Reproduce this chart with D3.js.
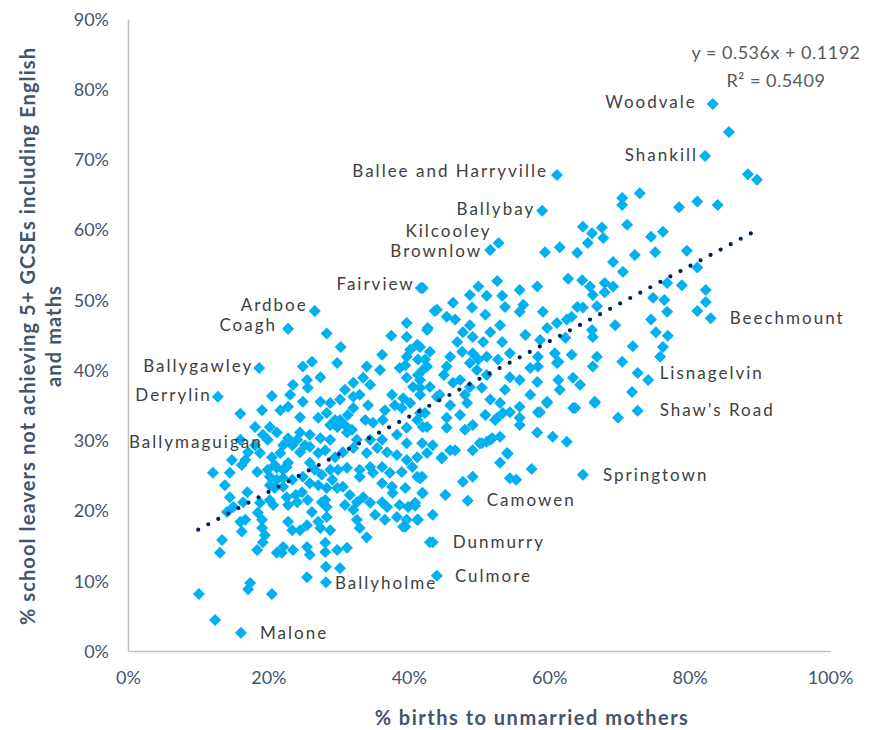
<!DOCTYPE html>
<html>
<head>
<meta charset="utf-8">
<script src="https://cdn.jsdelivr.net/npm/d3@7/dist/d3.min.js"></script>
<style>
  html, body { margin: 0; padding: 0; background: #ffffff; }
  svg { display: block; font-family: Lato, "Liberation Sans", sans-serif; }
</style>
</head>
<body>
<svg id="chart" width="881" height="730"></svg>
<script>
// % births to unmarried mothers, per ward (unlabelled wards)
const birthsUnmarried = [
  28.3, 37.5, 39.7, 39.7, 41.2, 42.6, 30.3, 29.8, 26.2, 24.9,
  36.2, 39.7, 38.7, 41.3, 42.0, 35.9, 34.0, 33.5, 27.4, 25.5,
  23.5, 25.6, 32.1, 32.1, 34.5, 20.5, 37.6, 39.2, 40.6, 39.7,
  41.6, 22.8, 24.9, 27.4, 28.8, 28.3, 27.1, 24.5, 34.2, 32.1,
  16.0, 39.0, 40.2, 36.3, 34.9, 33.8, 30.2, 29.8, 41.2, 39.7,
  42.0, 42.3, 18.1, 20.2, 19.2, 21.2, 22.8, 24.5, 25.9, 27.4,
  28.8, 31.2, 31.9, 32.6, 34.5, 36.2, 38.3, 39.7, 41.9, 17.1,
  18.8, 20.5, 21.7, 22.8, 24.5, 25.9, 27.1, 28.1, 29.5, 30.6,
  32.1, 34.0, 35.5, 36.9, 38.3, 39.7, 41.2, 42.6, 16.2, 12.1,
  21.2, 22.6, 25.9, 31.2, 33.0, 34.5, 36.2, 37.3, 39.0, 40.5,
  41.9, 14.5, 13.8, 18.4, 20.2, 21.2, 22.1, 23.4, 20.9, 22.1,
  24.9, 25.9, 24.8, 29.1, 28.3, 28.1, 29.8, 30.6, 33.0, 34.9,
  36.2, 37.6, 37.7, 39.5, 41.9, 41.2, 14.5, 17.0, 16.4, 15.0,
  18.8, 20.2, 20.7, 22.6, 22.8, 24.1, 27.6, 28.3, 32.6, 33.5,
  34.5, 36.2, 36.9, 38.7, 39.9, 40.9, 14.1, 16.7, 16.0, 18.5,
  19.1, 16.2, 19.1, 19.5, 22.8, 23.4, 24.5, 25.5, 27.1, 28.3,
  27.4, 28.8, 32.6, 32.1, 33.0, 34.0, 38.3, 39.2, 39.7, 41.2,
  13.4, 13.1, 18.4, 19.2, 21.2, 22.1, 23.5, 25.5, 25.9, 28.1,
  28.1, 29.8, 31.2, 43.0, 10.1, 12.4, 17.4, 17.1, 20.5, 25.5,
  28.2, 30.2, 21.9, 41.6, 42.0, 45.2, 47.7, 49.1, 53.0, 54.1,
  54.4, 55.3, 57.5, 43.4, 41.3, 39.5, 40.9, 44.7, 43.4, 49.1,
  50.4, 51.6, 53.0, 58.3, 60.5, 62.5, 52.3, 55.8, 58.4, 59.7,
  63.4, 66.5, 71.8, 69.8, 64.8, 66.1, 67.5, 67.7, 65.5, 71.1,
  59.4, 61.5, 64.0, 72.2, 75.1, 69.1, 70.5, 42.0, 49.9, 52.6,
  51.1, 53.3, 58.3, 62.7, 64.7, 65.8, 66.2, 67.9, 67.9, 69.1,
  74.8, 76.8, 44.0, 46.3, 49.0, 45.4, 46.6, 53.7, 55.8, 56.3,
  59.1, 64.0, 64.8, 66.8, 76.8, 42.7, 47.7, 49.1, 51.6, 46.9,
  50.6, 53.3, 59.7, 61.1, 62.5, 63.2, 69.4, 62.3, 66.1, 66.2,
  71.9, 41.6, 43.0, 45.9, 47.6, 49.1, 49.9, 51.1, 52.7, 54.4,
  58.4, 60.8, 61.1, 63.2, 66.8, 66.2, 70.4, 42.6, 45.4, 48.7,
  49.7, 51.1, 54.4, 57.3, 58.4, 61.3, 58.3, 61.3, 63.4, 64.4,
  41.6, 43.0, 46.3, 48.7, 50.4, 66.5, 59.7, 58.7, 55.8, 63.7,
  44.0, 45.9, 48.3, 53.0, 53.4, 54.4, 55.8, 52.6, 45.4, 41.6,
  42.6, 45.4, 48.0, 49.1, 51.1, 51.9, 50.1, 45.9, 46.6, 44.7,
  54.0, 43.7, 85.6, 88.3, 89.6, 72.9, 70.4, 70.4, 78.5, 81.1,
  84.0, 74.5, 76.2, 79.6, 81.1, 78.9, 82.3, 82.3, 81.1, 76.9,
  76.2, 75.8, 74.1, 23.4, 24.1, 25.2, 22.1, 26.6, 27.6, 28.8,
  27.1, 29.9, 19.9, 20.9, 22.1, 20.2, 29.5, 30.9, 28.8, 31.3,
  39.5, 41.3, 42.3, 40.2, 41.6, 38.0, 36.6, 33.0, 30.9, 30.2,
  23.1, 21.7, 19.1, 18.1, 16.0, 16.7, 14.8, 23.9, 25.6, 26.2,
  30.9, 31.6, 35.2, 36.6, 44.4, 47.3, 45.0, 48.0, 51.6, 50.9,
  47.3, 53.7, 57.3, 55.8, 61.5, 48.7, 50.9, 53.0, 56.6, 58.7,
  48.7, 55.8, 76.4, 75.2, 74.5
];

// % school leavers not achieving 5+ GCSEs incl. English and maths (same order)
const leaversNoGcse = [
  45.2, 44.9, 46.7, 44.7, 43.6, 45.7, 43.3, 41.0, 41.2, 40.5,
  42.2, 41.9, 40.3, 41.5, 40.0, 40.0, 40.5, 38.9, 39.0, 38.6,
  37.9, 37.5, 38.2, 36.2, 37.9, 36.3, 36.5, 36.0, 37.6, 38.9,
  37.5, 34.8, 35.5, 35.5, 35.3, 33.9, 33.2, 33.3, 35.0, 34.6,
  33.8, 34.6, 35.3, 32.9, 32.5, 32.9, 32.9, 31.9, 32.9, 31.8,
  31.9, 33.9, 31.9, 31.9, 30.8, 31.1, 30.3, 31.1, 30.8, 30.3,
  30.1, 31.1, 31.5, 30.1, 30.1, 30.1, 30.8, 29.6, 29.6, 28.3,
  28.2, 27.6, 28.2, 26.8, 28.3, 29.1, 28.2, 28.6, 27.6, 28.3,
  28.9, 28.2, 28.9, 28.3, 27.9, 27.2, 27.6, 28.2, 26.5, 25.4,
  26.1, 26.2, 26.8, 26.1, 25.8, 26.2, 26.2, 25.4, 25.5, 26.2,
  24.8, 25.4, 23.6, 25.5, 24.8, 24.4, 24.6, 24.4, 23.2, 23.4,
  24.8, 23.9, 22.6, 24.4, 23.2, 21.5, 23.2, 23.4, 24.8, 25.4,
  23.9, 23.4, 22.5, 23.2, 22.5, 24.8, 21.9, 22.6, 21.2, 20.5,
  21.1, 21.5, 20.8, 21.9, 20.8, 21.2, 21.2, 20.5, 21.2, 21.9,
  21.1, 21.2, 20.5, 20.8, 20.5, 21.1, 19.8, 18.7, 18.4, 19.7,
  18.7, 17.0, 17.5, 16.5, 18.4, 17.2, 17.2, 17.9, 18.4, 19.1,
  17.5, 17.2, 18.7, 20.1, 17.5, 16.2, 19.1, 17.7, 18.7, 18.7,
  15.8, 14.0, 14.4, 15.5, 14.0, 14.8, 14.4, 14.8, 13.7, 15.4,
  14.1, 14.4, 14.7, 15.5, 8.1, 4.4, 9.7, 8.8, 8.1, 10.5,
  12.0, 11.8, 14.0, 24.6, 22.5, 22.2, 24.1, 24.8, 26.8, 28.1,
  24.6, 24.4, 25.9, 19.4, 18.7, 17.7, 20.7, 27.4, 29.3, 28.6,
  29.6, 30.1, 30.5, 31.1, 30.5, 29.8, 32.9, 32.2, 34.0, 35.3,
  34.6, 35.3, 36.9, 33.2, 60.4, 59.5, 60.3, 58.8, 58.1, 60.7,
  56.8, 57.5, 56.7, 56.4, 56.8, 55.4, 54.0, 51.7, 51.9, 52.7,
  50.6, 50.6, 51.9, 53.0, 52.8, 51.9, 50.7, 52.4, 51.1, 51.9,
  50.3, 52.4, 48.6, 49.6, 48.9, 47.6, 47.2, 49.0, 48.3, 49.3,
  48.3, 49.0, 48.9, 49.1, 48.3, 46.0, 45.4, 44.7, 45.4, 44.0,
  44.0, 44.0, 46.0, 46.7, 47.2, 47.6, 46.4, 44.6, 45.7, 44.7,
  43.4, 43.3, 42.6, 41.9, 42.6, 42.4, 41.5, 41.9, 41.5, 42.4,
  41.9, 42.4, 41.0, 42.2, 41.9, 40.5, 41.2, 40.5, 40.5, 41.0,
  40.0, 39.3, 39.0, 40.3, 40.5, 41.2, 38.3, 38.6, 38.9, 37.9,
  38.6, 37.6, 38.2, 37.6, 37.5, 35.5, 35.5, 34.0, 34.8, 34.6,
  36.2, 35.0, 35.3, 35.3, 33.9, 34.0, 33.2, 33.2, 33.2, 33.9,
  31.9, 31.8, 31.5, 32.2, 29.8, 30.3, 29.6, 28.6, 28.6, 27.6,
  28.2, 48.4, 73.9, 67.9, 67.1, 65.2, 64.5, 63.5, 63.2, 64.0,
  63.5, 59.0, 59.7, 57.0, 54.6, 52.1, 51.4, 49.7, 48.4, 44.9,
  43.3, 41.9, 38.6, 29.3, 30.1, 29.3, 29.3, 25.8, 25.1, 25.8,
  23.6, 25.8, 25.8, 26.5, 25.8, 23.6, 32.9, 32.2, 32.2, 33.6,
  40.7, 39.3, 41.5, 42.9, 36.5, 35.0, 34.3, 36.5, 37.2, 35.8,
  36.5, 34.3, 34.3, 29.3, 30.1, 27.2, 27.2, 22.2, 21.5, 19.8,
  20.8, 22.2, 19.4, 18.7, 36.5, 38.6, 39.3, 36.5, 35.8, 33.6,
  33.6, 37.2, 36.5, 38.6, 37.2, 46.4, 47.9, 46.4, 45.0, 44.3,
  50.7, 51.4, 50.0, 45.4, 47.2
];

// Named wards, their values and which side the name sits on
const namedWards = ["Woodvale", "Shankill", "Ballee and Harryville", "Ballybay", "Kilcooley",
  "Brownlow", "Fairview", "Ardboe", "Coagh", "Ballygawley", "Derrylin", "Ballymaguigan",
  "Beechmount", "Lisnagelvin", "Shaw's Road", "Springtown", "Camowen", "Dunmurry",
  "Culmore", "Ballyholme", "Malone"];
const namedBirths = [83.3, 82.2, 61.1, 59.0, 52.8, 51.6, 41.7, 26.6, 22.8, 18.7, 12.8, 19.9,
  83.0, 72.6, 72.6, 64.8, 48.4, 43.4, 44.0, 28.2, 16.1];
const namedNoGcse = [77.9, 70.5, 67.8, 62.7, 58.1, 57.1, 51.7, 48.4, 45.9, 40.3, 36.2, 30.1,
  47.4, 39.6, 34.2, 25.1, 21.4, 15.5, 10.7, 9.8, 2.6];

// Name placement: side of the marker and nudge in pixels
const namedSide = ["left", "left", "left", "left", "left", "left", "left", "left", "left", "left",
  "left", "left", "right", "right", "right", "right", "right", "right", "right", "right", "right"];
const nameNudgeX = [-16, -7, -9, -7, -7, -8, -6, -7, -11, -6, -6, -5, 19, 22, 22, 20, 19, 20, 18, 9, 19];
const nameNudgeY = [-2, -1, -4, -2, -12, 1, -4, -6, -4, -2, -2, 2, 0, 0, -1, 0, -1, 0, 0, 1, 0];

// Linear trend fitted to the wards
const trendSlope = 0.536;
const trendIntercept = 0.1192;
const trendRange = [10.0, 89.6];
const trendLabel = ["y = 0.536x + 0.1192", "R² = 0.5409"];

const xTicks = [0, 20, 40, 60, 80, 100];
const yTicks = [0, 10, 20, 30, 40, 50, 60, 70, 80, 90];

const xTitle = "% births to unmarried mothers";
const yTitle = ["% school leavers not achieving 5+ GCSEs including English", "and maths"];

// ---- layout ----
const svg = d3.select("#chart");
const plot = { left: 128, right: 830, top: 19, bottom: 651 };

const x = d3.scaleLinear().domain([0, 100]).range([plot.left, plot.right]);
const y = d3.scaleLinear().domain([0, 90]).range([plot.bottom, plot.top]);

const axisColor = "#bfbfbf";
const tickColor = "#44546a";
const markColor = "#00b0f0";
const labelColor = "#404040";

// axes
const xAxis = svg.append("g")
  .attr("transform", `translate(0,${plot.bottom})`)
  .call(d3.axisBottom(x).tickValues(xTicks).tickFormat(d => d + "%").tickSize(0).tickPadding(20));
const yAxis = svg.append("g")
  .attr("transform", `translate(${plot.left},0)`)
  .call(d3.axisLeft(y).tickValues(yTicks).tickFormat(d => d + "%").tickSize(0).tickPadding(19));

[xAxis, yAxis].forEach(g => {
  g.select(".domain").attr("stroke", axisColor).attr("stroke-width", 1.5);
  g.selectAll("text")
    .attr("fill", tickColor)
    .style("font-family", "Lato, sans-serif")
    .style("font-size", "18px");
});
yAxis.selectAll("text").attr("dy", "0.35em");

// axis titles
svg.append("text")
  .attr("x", 532)
  .attr("y", 725)
  .attr("text-anchor", "middle")
  .attr("fill", tickColor)
  .style("font-family", "Lato, sans-serif")
  .style("font-weight", "bold")
  .style("font-size", "20px")
  .style("letter-spacing", "1.5px")
  .text(xTitle);

const yt = svg.append("text")
  .attr("transform", "rotate(-90)")
  .attr("text-anchor", "middle")
  .attr("fill", tickColor)
  .style("font-family", "Lato, sans-serif")
  .style("font-weight", "bold")
  .style("font-size", "20px")
  .style("letter-spacing", "1.1px");
yTitle.forEach((line, i) => {
  yt.append("tspan")
    .attr("x", -336)
    .attr("y", 35 + i * 26)
    .text(line);
});

// scatter marks: diamonds
const diamond = "M0,-6L6,0L0,6L-6,0Z";
const pts = birthsUnmarried.map((b, i) => ({ b, g: leaversNoGcse[i] }))
  .concat(namedBirths.map((b, i) => ({ b, g: namedNoGcse[i] })));

svg.append("g").selectAll("path")
  .data(pts)
  .join("path")
  .attr("d", diamond)
  .attr("transform", d => `translate(${x(d.b)},${y(d.g)})`)
  .attr("fill", markColor);

// trend line (round dots)
const trendFn = v => (trendSlope * v / 100 + trendIntercept) * 100;
svg.append("line")
  .attr("x1", x(trendRange[0])).attr("y1", y(trendFn(trendRange[0])))
  .attr("x2", x(trendRange[1])).attr("y2", y(trendFn(trendRange[1])))
  .attr("stroke", "#002060")
  .attr("stroke-width", 4.2)
  .attr("stroke-linecap", "round")
  .attr("stroke-dasharray", "0 11.4");

// trend equation
const eq = svg.append("text")
  .attr("text-anchor", "middle")
  .attr("fill", "#595959")
  .style("font-family", "Lato, sans-serif")
  .style("font-size", "18px")
  .style("letter-spacing", "0.5px");
trendLabel.forEach((line, i) => {
  eq.append("tspan").attr("x", 776).attr("y", 59 + i * 28).text(line);
});

// ward names
svg.append("g").selectAll("text")
  .data(namedWards.map((n, i) => ({ n, i, b: namedBirths[i], g: namedNoGcse[i], side: namedSide[i] })))
  .join("text")
  .attr("x", d => x(d.b) + nameNudgeX[d.i])
  .attr("y", d => y(d.g) + nameNudgeY[d.i])
  .attr("dy", "0.35em")
  .attr("text-anchor", d => d.side === "left" ? "end" : "start")
  .attr("fill", labelColor)
  .style("font-family", "Lato, sans-serif")
  .style("font-size", "17px")
  .style("letter-spacing", "2px")
  .text(d => d.n);
</script>
</body>
</html>
